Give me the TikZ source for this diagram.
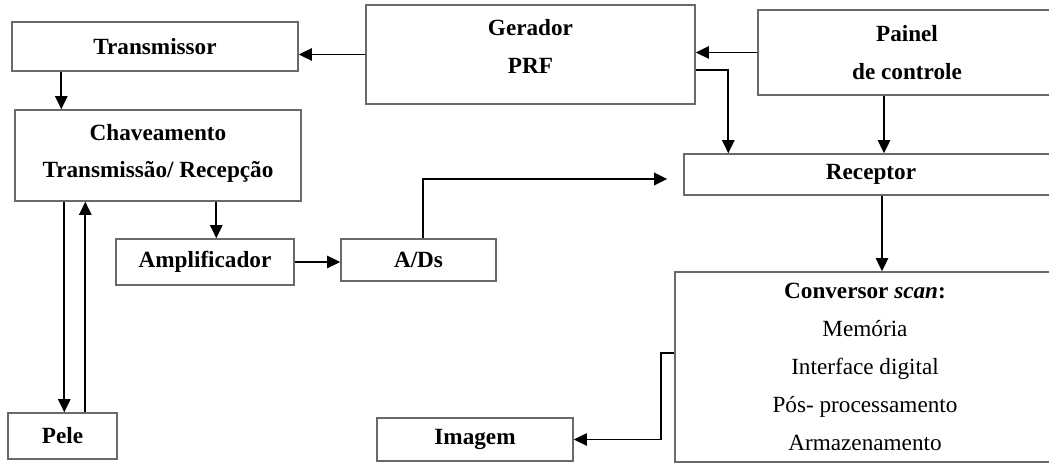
\documentclass[tikz,border=0pt]{standalone}
\usepackage{fontspec}
\setmainfont{Liberation Serif}
\usetikzlibrary{arrows.meta}

\begin{document}
\begin{tikzpicture}
  \definecolor{boxgray}{RGB}{105,105,105}

  \tikzset{
    blockbox/.style={draw=boxgray,line width=0.8pt,inner sep=0pt,align=center,
      font=\fontsize{13.2}{21.5}\selectfont\bfseries},
    flowarrow/.style={-{Triangle[length=7.5pt,width=7pt]},line width=1pt},
    boldarrow/.style={-{Triangle[length=7.5pt,width=7pt]},line width=1.4pt}
  }

  \useasboundingbox (0,0) rectangle (20.98,9.28);

  % ---------------- Upper row ----------------
  \node[blockbox,minimum width=5.72cm,minimum height=0.98cm] (trans) at (3.10,8.35) {Transmissor};
  \node[blockbox,minimum width=6.58cm,minimum height=1.98cm,text depth=0.32cm] (gerador) at (10.61,8.19) {Gerador\\PRF};
  \node[blockbox,minimum width=5.96cm,minimum height=1.70cm] (painel) at (18.14,8.23) {Painel\\de controle};

  % ---------------- Middle ----------------
  \node[blockbox,minimum width=5.72cm,minimum height=1.82cm,text depth=0.18cm] (chave) at (3.16,6.17) {Chaveamento\\Transmissão/ Recepção};
  \node[blockbox,minimum width=7.48cm,minimum height=0.82cm] (recep) at (17.42,5.79) {Receptor};
  \node[blockbox,minimum width=3.56cm,minimum height=0.92cm] (ampli) at (4.10,4.04) {Amplificador};
  \node[blockbox,minimum width=3.10cm,minimum height=0.84cm] (ads) at (8.37,4.08) {A/Ds};

  % ---------------- Lower row ----------------
  \node[blockbox,minimum width=7.60cm,minimum height=3.80cm,font=\fontsize{13.2}{21.5}\selectfont] (conv) at (17.30,1.94)
    {\textbf{Conversor \textit{scan}:}\\Memória\\Interface digital\\Pós- processamento\\Armazenamento};
  \node[blockbox,minimum width=2.18cm,minimum height=0.92cm] (pele) at (1.25,0.56) {Pele};
  \node[blockbox,minimum width=3.92cm,minimum height=0.86cm] (imagem) at (9.50,0.49) {Imagem};

  % Helper points on box edges
  \coordinate (transout) at ([xshift=1cm]trans.south west);
  \coordinate (chaveamp) at ([xshift=4.04cm]chave.south west);
  \coordinate (chavedown) at ([xshift=1cm]chave.south west);
  \coordinate (peleup) at ([xshift=1.56cm]pele.north west);
  \coordinate (painelout) at ([xshift=-0.46cm]painel.south);
  \coordinate (recepout) at ([xshift=0.22cm]recep.south);

  % Control path
  \draw[flowarrow] (gerador.west) -- (gerador.west -| trans.east);
  \draw[flowarrow] (painel.west) -- (painel.west -| gerador.east);
  \draw[flowarrow] ([yshift=-0.31cm]gerador.east) -| ([xshift=0.9cm]recep.north west);
  \draw[flowarrow] (painelout) -- (painelout |- recep.north);

  % Transmit / receive path
  \draw[flowarrow] (transout) -- (transout |- chave.north);
  \draw[flowarrow] (chavedown) -- (chavedown |- pele.north);
  \draw[flowarrow] (peleup) -- (peleup |- chave.south);
  \draw[flowarrow] (chaveamp) -- (chaveamp |- ampli.north);
  \draw[flowarrow] (ampli.east) -- (ampli.east -| ads.west);
  \draw[boldarrow,shorten >=0.32cm] ([xshift=0.09cm]ads.north) |- ([yshift=-0.09cm]recep.west);

  % Display path
  \draw[flowarrow] (recepout) -- (recepout |- conv.north);
  \draw[flowarrow] ([yshift=0.28cm]conv.west) -- ++(-0.26,0) |- (imagem.east);
\end{tikzpicture}
\end{document}
